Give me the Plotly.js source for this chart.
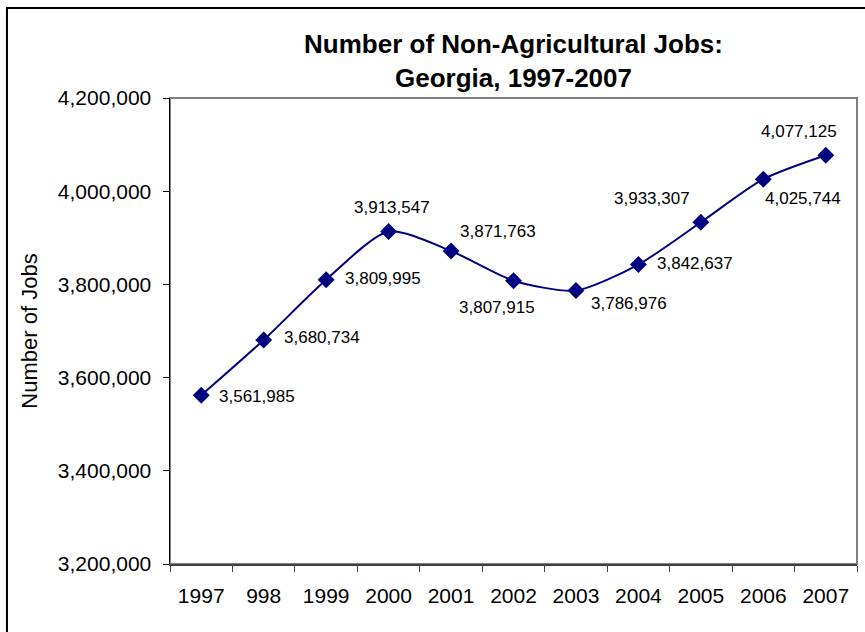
<!DOCTYPE html>
<html>
<head>
<meta charset="utf-8">
<script src="https://cdn.plot.ly/plotly-3.0.1.min.js"></script>
<style>html,body{margin:0;padding:0;background:#fff;}#chart{width:865px;height:632px;}</style>
</head>
<body>
<div id="chart"></div>
<script>
// Data
var years = ["1997", "998", "1999", "2000", "2001", "2002", "2003", "2004", "2005", "2006", "2007"];
var jobs = [3561985, 3680734, 3809995, 3913547, 3871763, 3807915, 3786976, 3842637, 3933307, 4025744, 4077125];
var yTickVals = [3200000, 3400000, 3600000, 3800000, 4000000, 4200000];
var yTickText = ["3,200,000", "3,400,000", "3,600,000", "3,800,000", "4,000,000", "4,200,000"];

// Label offsets (pixels) relative to each point: [dx, dy-up]
var labelOffsets = [[56,-1],[58,2],[57,1],[3,24],[47,19],[-17,-27],[53,-13],[57,1],[-49,24],[40,-19],[-27,24]];

var FONT = "Liberation Sans, Arial, sans-serif";

function fmt(n){ return n.toString().replace(/\B(?=(\d{3})+(?!\d))/g, ","); }

var annotations = years.map(function(yr, i){
  return {
    x: i, y: jobs[i], xref: "x", yref: "y",
    text: fmt(jobs[i]), showarrow: false,
    xanchor: "center", yanchor: "middle",
    xshift: labelOffsets[i][0], yshift: labelOffsets[i][1],
    font: {family: FONT, size: 17, color: "#000"}
  };
});

var trace = {
  x: years, y: jobs, type: "scatter", mode: "lines+markers",
  line: {color: "#000080", width: 2, shape: "spline", smoothing: 0.7},
  marker: {symbol: "diamond", size: 13, color: "#000080"},
  hoverinfo: "x+y"
};

var layout = {
  width: 865, height: 632,
  margin: {l: 170, r: 8, t: 98, b: 68},
  paper_bgcolor: "#fff", plot_bgcolor: "#fff",
  showlegend: false,
  font: {family: FONT, color: "#000"},
  title: {
    text: "<b>Number of Non-Agricultural Jobs:</b><br><b>Georgia, 1997-2007</b>",
    font: {family: FONT, size: 26, color: "#000"},
    x: 0.5, xref: "paper", xanchor: "center",
    y: 0.916, yref: "container", yanchor: "middle"
  },
  xaxis: {
    type: "category", tickson: "boundaries",
    ticks: "outside", ticklen: 6, tickcolor: "#404040", tickwidth: 1,
    showline: true, linecolor: "#404040", linewidth: 1.5,
    showgrid: false, zeroline: false,
    tickfont: {family: FONT, size: 21, color: "#000"},
    ticklabelstandoff: 12,
    range: [-0.5, 10.5], fixedrange: true
  },
  yaxis: {
    range: [3200000, 4200000],
    tickvals: yTickVals, ticktext: yTickText,
    ticks: "outside", ticklen: 6, tickcolor: "#000", tickwidth: 1,
    showline: true, linecolor: "#000", linewidth: 1.5,
    showgrid: false, zeroline: false,
    tickfont: {family: FONT, size: 21, color: "#000"},
    ticklabelstandoff: 7,
    title: {text: "Number of Jobs", font: {family: FONT, size: 22, color: "#000"}, standoff: 14},
    fixedrange: true
  },
  shapes: [
    {type: "rect", xref: "paper", yref: "paper", x0: 0, x1: 1, y0: 0, y1: 1,
     line: {color: "#808080", width: 2}, layer: "below"},
    {type: "rect", xref: "paper", yref: "paper", x0: -0.2373, x1: 1.03, y0: -0.18, y1: 1.1931,
     line: {color: "#000", width: 2}, layer: "below"}
  ],
  annotations: annotations
};

Plotly.newPlot("chart", [trace], layout, {displayModeBar: false, staticPlot: true});
</script>
</body>
</html>
